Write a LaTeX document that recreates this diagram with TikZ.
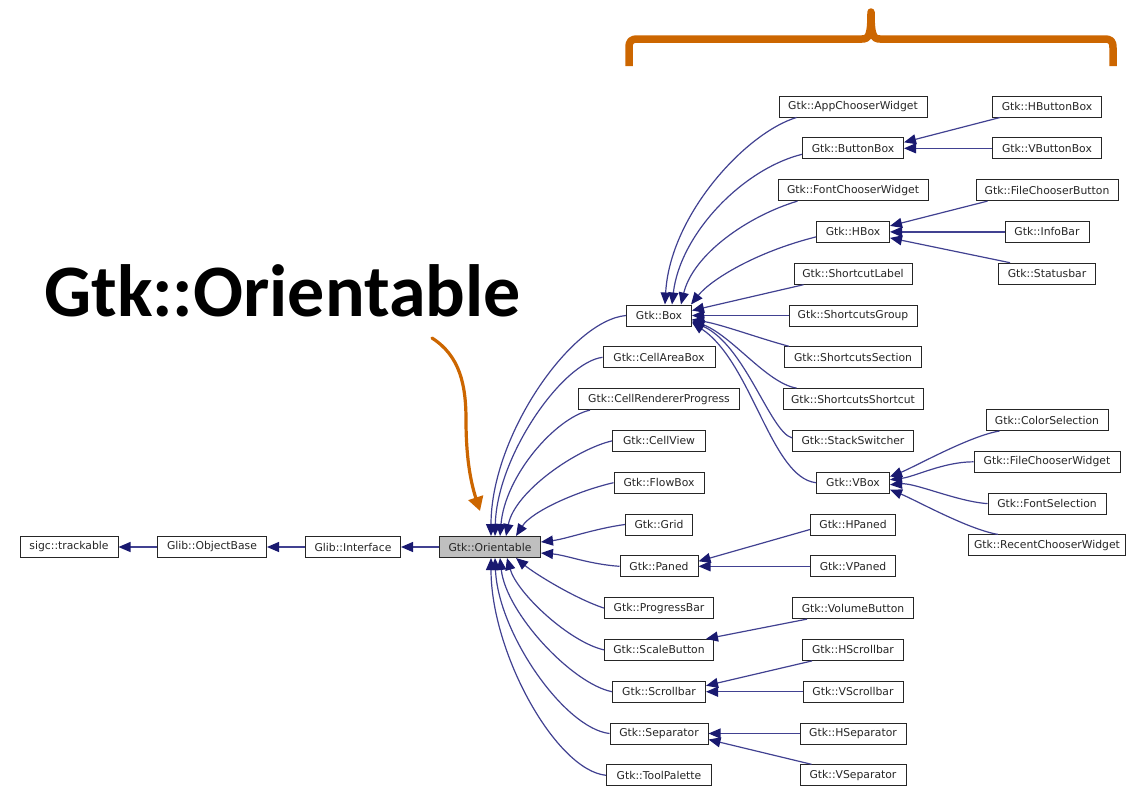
\documentclass[tikz,border=0pt]{standalone}
\usepackage{fontspec}
\newfontfamily\dv{DejaVu Sans}
\newfontfamily\carlito{Carlito}
\usetikzlibrary{arrows.meta}
\definecolor{navy}{RGB}{25,25,112}
\definecolor{edgecol}{RGB}{65,65,145}
\definecolor{orng}{RGB}{204,102,0}
\definecolor{gboxfill}{RGB}{191,191,191}
\tikzset{
  cls/.style={draw=black!85, line width=1pt, fill=white, minimum height=21pt,
    inner xsep=1pt, inner ysep=0pt, text=black!85,
    font=\dv\fontsize{10.8}{12}\selectfont},
  edge/.style={draw=edgecol, line width=1.2pt,
    -{Triangle[length=12pt,width=10pt,fill=navy,color=navy]}},
  brace/.style={draw=orng, line width=7.5pt, line cap=butt, line join=round},
  oarrow/.style={draw=orng, line width=3.2pt, line cap=round,
    -{Triangle[length=14pt,width=15pt]}}
}
\begin{document}
\begin{tikzpicture}[x=1pt,y=-1pt]
\useasboundingbox (0,0) rectangle (1127,793);
% chain
\node[cls, minimum width=98pt]  (sig) at (69,547)  {sigc::trackable};
\node[cls, minimum width=109pt] (gob) at (212,547) {Glib::ObjectBase};
\node[cls, minimum width=95pt]  (gif) at (353,547) {Glib::Interface};
\node[cls, minimum width=101pt, fill=gboxfill] (ori) at (490,547) {Gtk::Orientable};
% middle column
\node[cls, minimum width=65pt]  (box)   at (659,315.5) {Gtk::Box};
\node[cls, minimum width=112pt] (cab)   at (659,357.3) {Gtk::CellAreaBox};
\node[cls, minimum width=161pt] (crp)   at (659,399.1) {Gtk::CellRendererProgress};
\node[cls, minimum width=93pt]  (cv)    at (659,440.9) {Gtk::CellView};
\node[cls, minimum width=90pt]  (fb)    at (659,482.7) {Gtk::FlowBox};
\node[cls, minimum width=67pt]  (grid)  at (659,524.5) {Gtk::Grid};
\node[cls, minimum width=78pt]  (paned) at (659,566.3) {Gtk::Paned};
\node[cls, minimum width=109pt] (pb)    at (659,608.1) {Gtk::ProgressBar};
\node[cls, minimum width=109pt] (sb)    at (659,649.9) {Gtk::ScaleButton};
\node[cls, minimum width=93pt]  (scr)   at (659,691.7) {Gtk::Scrollbar};
\node[cls, minimum width=98pt]  (sep)   at (659,733.5) {Gtk::Separator};
\node[cls, minimum width=105pt] (tp)    at (659,775.3) {Gtk::ToolPalette};
% first right column
\node[cls, minimum width=148pt] (acw)  at (853,106.5) {Gtk::AppChooserWidget};
\node[cls, minimum width=101pt] (bb)   at (853,148.3) {Gtk::ButtonBox};
\node[cls, minimum width=150pt] (fcw)  at (853,190.1) {Gtk::FontChooserWidget};
\node[cls, minimum width=73pt]  (hbox) at (853,231.9) {Gtk::HBox};
\node[cls, minimum width=118pt] (sl)   at (853,273.7) {Gtk::ShortcutLabel};
\node[cls, minimum width=128pt] (sg)   at (853,315.5) {Gtk::ShortcutsGroup};
\node[cls, minimum width=137pt] (ss)   at (853,357.3) {Gtk::ShortcutsSection};
\node[cls, minimum width=140pt] (ssc)  at (853,399.1) {Gtk::ShortcutsShortcut};
\node[cls, minimum width=121pt] (stk)  at (853,440.9) {Gtk::StackSwitcher};
\node[cls, minimum width=73pt]  (vbox) at (853,482.7) {Gtk::VBox};
\node[cls, minimum width=85pt]  (hp)   at (853,524.5) {Gtk::HPaned};
\node[cls, minimum width=85pt]  (vp)   at (853,566.3) {Gtk::VPaned};
\node[cls, minimum width=121pt] (vb)   at (853,608.1) {Gtk::VolumeButton};
\node[cls, minimum width=101pt] (hs)   at (853,649.9) {Gtk::HScrollbar};
\node[cls, minimum width=100pt] (vs)   at (853,691.7) {Gtk::VScrollbar};
\node[cls, minimum width=106pt] (hsep) at (853,733.5) {Gtk::HSeparator};
\node[cls, minimum width=106pt] (vsep) at (853,775.3) {Gtk::VSeparator};
% second right column
\node[cls, minimum width=109pt] (hbb)   at (1047,106.5) {Gtk::HButtonBox};
\node[cls, minimum width=109pt] (vbb)   at (1047,148.3) {Gtk::VButtonBox};
\node[cls, minimum width=142pt] (fcb)   at (1047,190.1) {Gtk::FileChooserButton};
\node[cls, minimum width=84pt]  (ib)    at (1047,231.9) {Gtk::InfoBar};
\node[cls, minimum width=97pt]  (stb)   at (1047,273.7) {Gtk::Statusbar};
\node[cls, minimum width=122pt] (cs)    at (1047,420.0) {Gtk::ColorSelection};
\node[cls, minimum width=146pt] (fcwid) at (1047,461.8) {Gtk::FileChooserWidget};
\node[cls, minimum width=118pt] (fs)    at (1047,503.6) {Gtk::FontSelection};
\node[cls, minimum width=157pt] (rcw)   at (1047,545.4) {Gtk::RecentChooserWidget};
% chain edges
\draw[edge] (ori.west) -- (gif.east);
\draw[edge] (gif.west) -- (gob.east);
\draw[edge] (gob.west) -- (sig.east);
% edges to Orientable
\draw[edge] (box.west) .. controls +(-55,5) and +(0,-100) .. ([xshift=1pt]ori.north);
\draw[edge] (cab.west) .. controls +(-40,5) and +(2,-80) .. ([xshift=5pt]ori.north);
\draw[edge] ([xshift=12pt]crp.south west) .. controls +(-35,8) and +(5,-60) .. ([xshift=10pt]ori.north);
\draw[edge] (cv.west) .. controls +(-35,8) and +(9,-45) .. ([xshift=16pt]ori.north);
\draw[edge] (fb.west) .. controls +(-35,8) and +(16,-25) .. ([xshift=26pt]ori.north);
\draw[edge] (grid.west) .. controls +(-30,4) and +(25,-3) .. ([yshift=5pt]ori.east);
\draw[edge] (paned.west) .. controls +(-30,-2) and +(25,2) .. ([yshift=-6pt]ori.east);
\draw[edge] (pb.west) .. controls +(-30,-10) and +(18,15) .. ([xshift=26pt]ori.south);
\draw[edge] (sb.west) .. controls +(-35,-8) and +(10,35) .. ([xshift=17pt]ori.south);
\draw[edge] (scr.west) .. controls +(-40,-8) and +(6,55) .. ([xshift=10pt]ori.south);
\draw[edge] (sep.west) .. controls +(-45,-5) and +(3,75) .. ([xshift=5pt]ori.south);
\draw[edge] (tp.west) .. controls +(-50,-5) and +(0,95) .. ([xshift=1pt]ori.south);
% edges to Box
\draw[edge] ([xshift=18pt]acw.south west) .. controls +(-50,15) and +(5,-90) .. ([xshift=6pt]box.north);
\draw[edge] ([yshift=-6pt]bb.west) .. controls +(-60,15) and +(8,-70) .. ([xshift=13pt]box.north);
\draw[edge] ([xshift=20pt]fcw.south west) .. controls +(-50,15) and +(12,-50) .. ([xshift=22pt]box.north);
\draw[edge] ([yshift=-5pt]hbox.west) .. controls +(-60,15) and +(20,-25) .. ([xshift=-1pt]box.north east);
\draw[edge] ([xshift=10pt]sl.south west) -- ([yshift=5pt]box.east);
\draw[edge] (sg.west) -- (box.east);
\draw[edge] ([xshift=5pt]ss.north west) .. controls +(-30,-8) and +(30,5) .. ([yshift=-4pt]box.east);
\draw[edge] ([xshift=14pt]ssc.north west) .. controls +(-30,-5) and +(40,15) .. ([yshift=-5pt]box.east);
\draw[edge] ([yshift=3pt]stk.west) .. controls +(-22,-6) and +(53,23) .. ([yshift=-6pt]box.east);
\draw[edge] (vbox.west) .. controls +(-45,-5) and +(60,40) .. ([yshift=-7pt]box.east);
% sub edges
\draw[edge] ([xshift=8pt]hbb.south west) -- ([yshift=6pt]bb.east);
\draw[edge] (vbb.west) -- (bb.east);
\draw[edge] ([xshift=12pt]fcb.south west) -- ([yshift=6pt]hbox.east);
\draw[edge] (ib.west) -- (hbox.east);
\draw[edge] ([xshift=12pt]stb.north west) -- ([yshift=-6pt]hbox.east);
\draw[edge] ([xshift=14pt]cs.south west) .. controls +(-30,5) and +(25,-10) .. ([yshift=6pt]vbox.east);
\draw[edge] (fcwid.west) .. controls +(-30,0) and +(25,-3) .. ([yshift=3pt]vbox.east);
\draw[edge] (fs.west) .. controls +(-30,-2) and +(25,-2) .. ([yshift=-2pt]vbox.east);
\draw[edge] ([xshift=30pt]rcw.north west) .. controls +(-30,-5) and +(25,10) .. ([yshift=-7pt]vbox.east);
\draw[edge] ([yshift=-5pt]hp.west) -- ([yshift=5pt]paned.east);
\draw[edge] (vp.west) -- (paned.east);
\draw[edge] ([xshift=15pt]vb.south west) -- ([xshift=-8pt]sb.north east);
\draw[edge] ([xshift=10pt]hs.south west) -- ([yshift=6pt]scr.east);
\draw[edge] (vs.west) -- (scr.east);
\draw[edge] (hsep.west) -- (sep.east);
\draw[edge] ([xshift=12pt]vsep.north west) -- ([yshift=-6pt]sep.east);
% annotations
\node[font=\carlito\bfseries\fontsize{74}{84}\selectfont, anchor=base west, inner sep=0pt] (title) at (44,316) {Gtk::Orientable};
\coordinate (os) at (432,338);
\coordinate (oe) at (480,511);
\draw[oarrow] (os) .. controls (460,356) and (466,385) .. (466,420) .. controls (466,455) and (470,480) .. (oe);
\draw[brace] (629,66) -- (629,48) .. controls (629,41) and (631,39) .. (638,39) -- (862,39) .. controls (869,39) and (871,35) .. (871,12) .. controls (871,35) and (873,39) .. (880,39) -- (1104,39) .. controls (1111,39) and (1113,41) .. (1113,48) -- (1113,66);
\end{tikzpicture}
\end{document}
